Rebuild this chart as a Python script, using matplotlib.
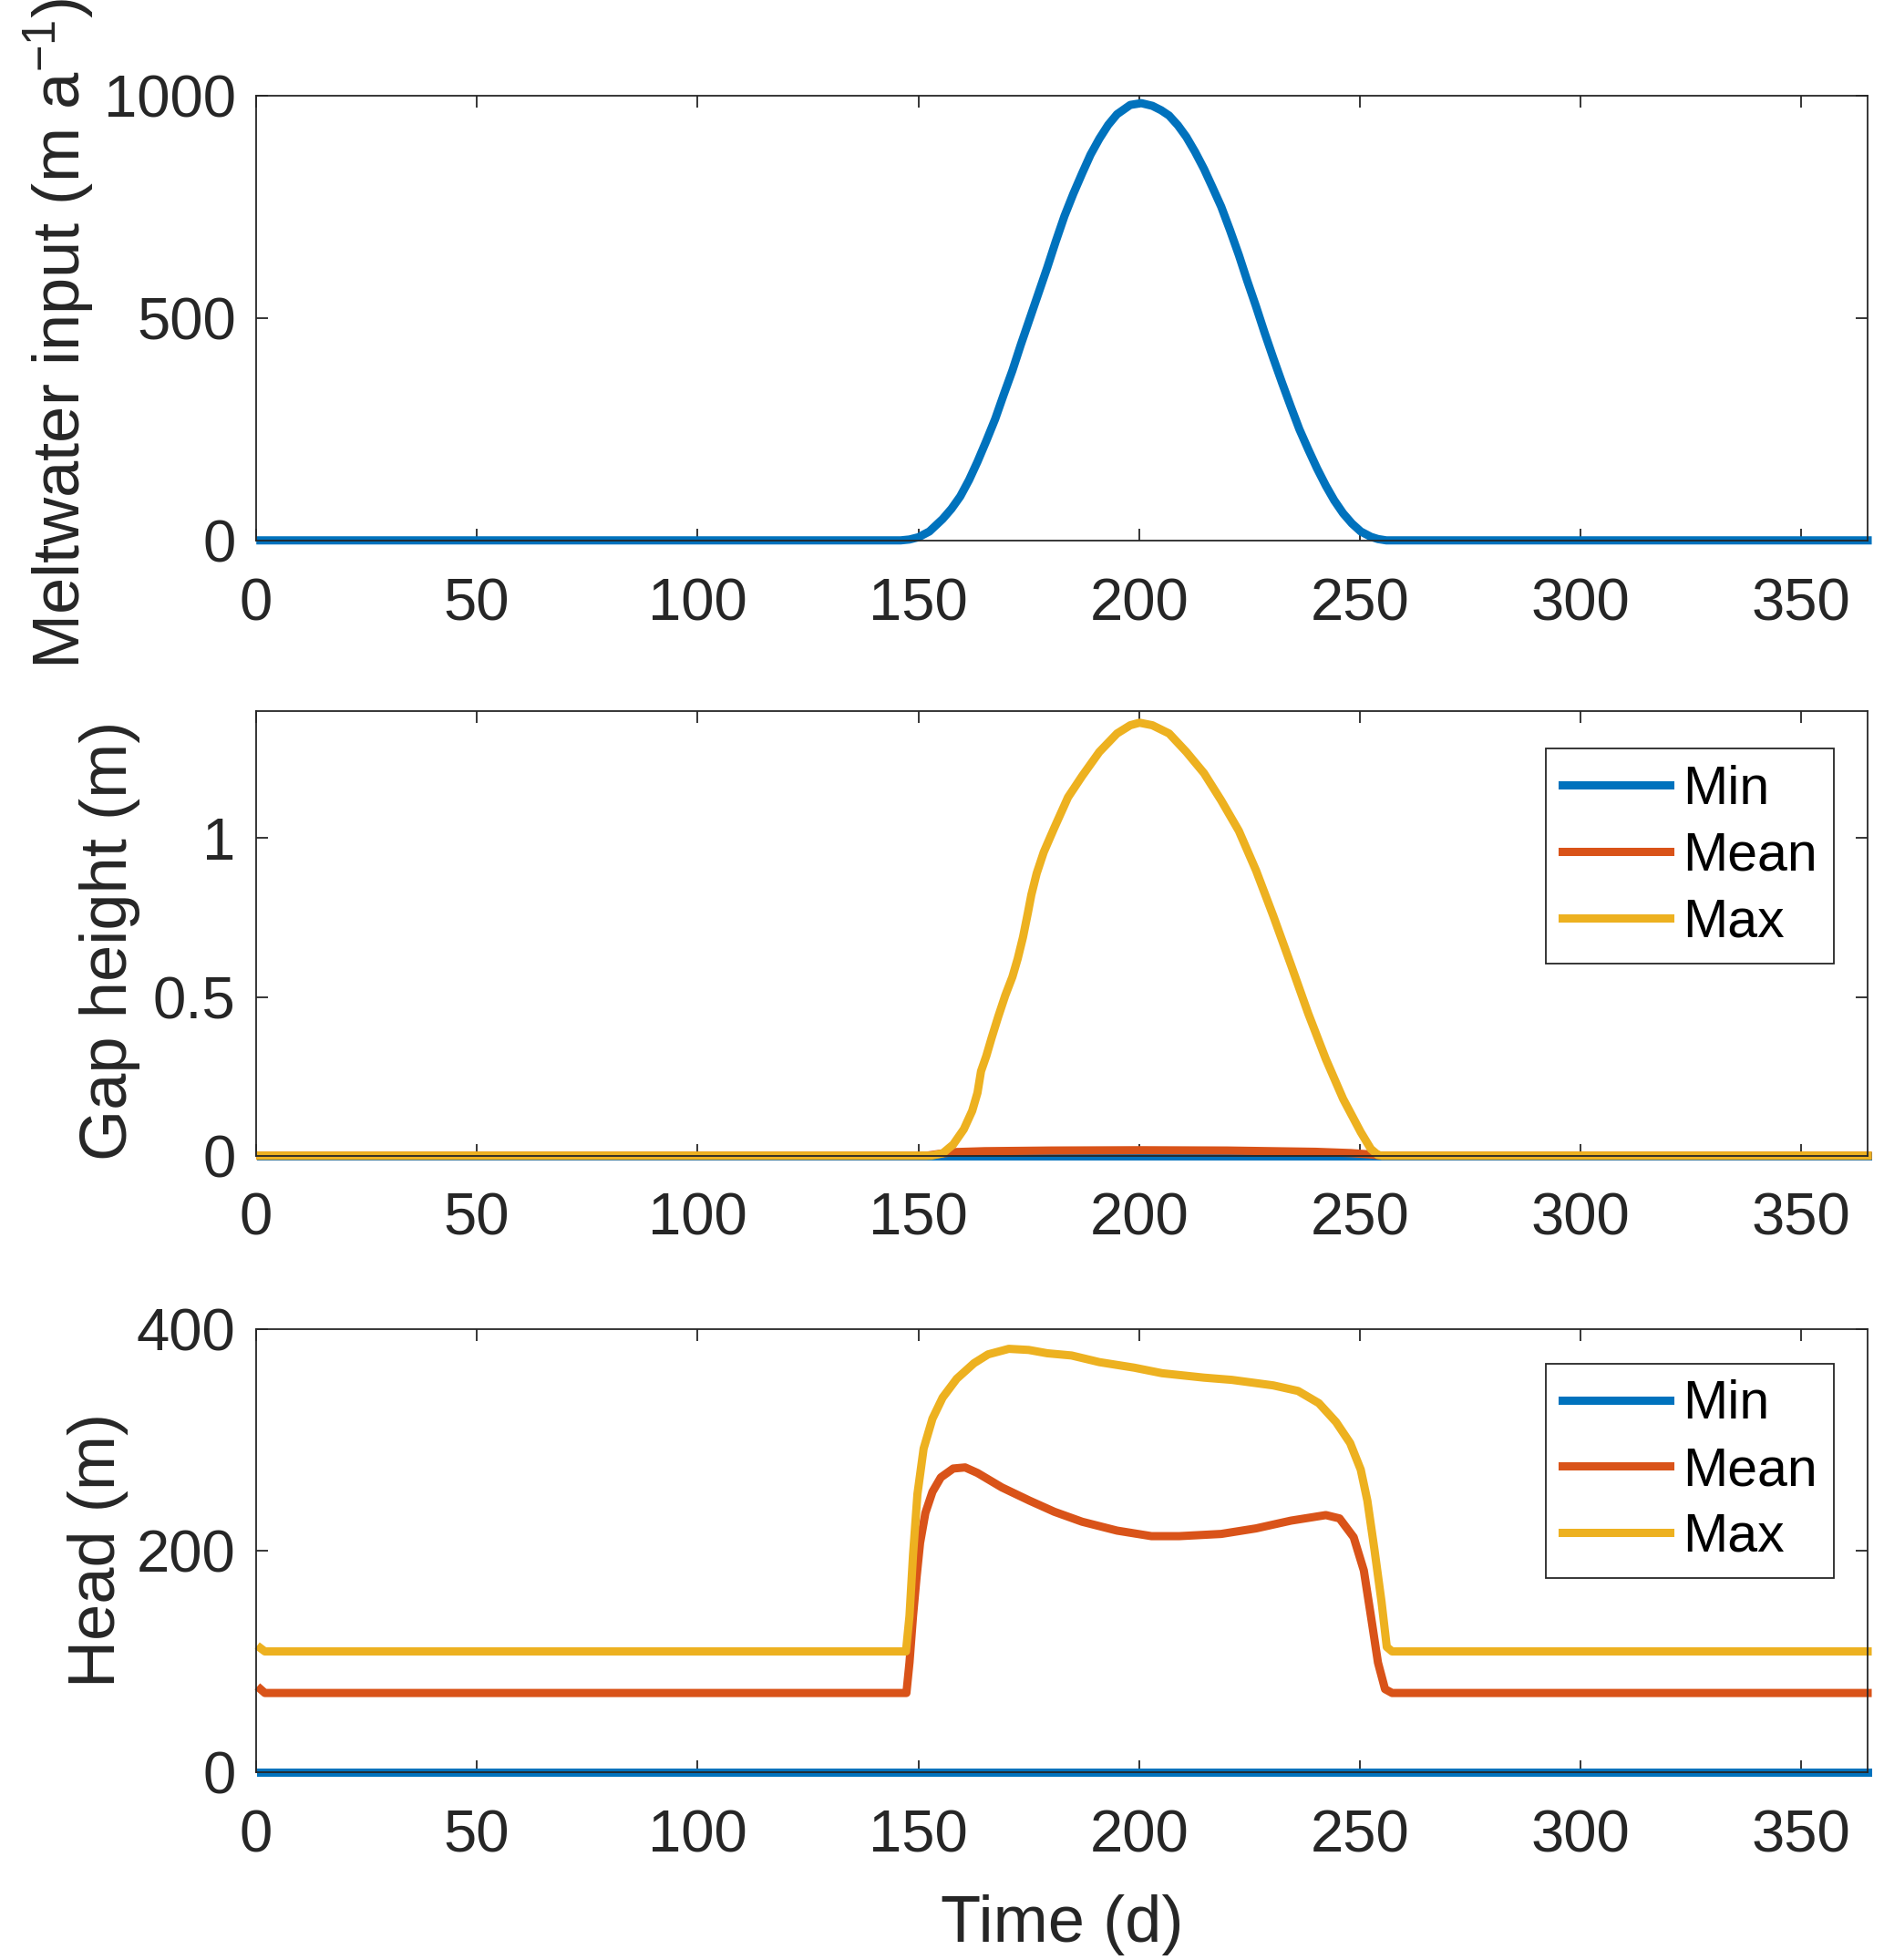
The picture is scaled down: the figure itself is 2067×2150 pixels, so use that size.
import matplotlib.pyplot as plt

# Datos
# Panel 1: meltwater input (m/a)
t_melt = [1, 146, 148, 150, 152.5, 155.5, 157.5, 159.5, 161.5, 163.4, 165.4, 167.4, 169.3,
          171.3, 173.2, 175.2, 177.2, 179.2, 181.1, 183.1, 185.1, 187.1, 189, 191, 193,
          195, 198, 200.5, 203, 205, 206.8, 208.8, 210.7, 212.7, 214.7, 216.6, 218.6,
          220.6, 222.6, 224.5, 226.5, 228.4, 230.4, 232.4, 234.4, 236.3, 238.3, 240.3,
          242.3, 244.2, 246.2, 248.2, 250.2, 252.5, 254.1, 256, 365]
melt = [0, 0, 2, 7, 20, 48, 71, 99, 136, 177, 224, 273, 327,
        382, 440, 498, 556, 614, 672, 730, 780, 826, 868, 904, 935,
        959, 980, 984, 978, 968, 956, 934, 908, 874, 836, 795, 751,
        698, 642, 584, 526, 468, 410, 354, 300, 250, 205, 162,
        123, 90, 61, 38, 20, 8, 3, 0, 0]

# Panel 2: gap height (m)
t_gmin = [1, 365]
gap_min = [0, 0]
t_gmean = [1, 152, 155, 158, 165, 180, 200, 220, 240, 248, 252, 255, 365]
gap_mean = [0, 0, 0.006, 0.011, 0.014, 0.016, 0.017, 0.016, 0.012, 0.008, 0.004, 0, 0]
t_gmax = [1, 153, 155.5, 157.9, 160.3, 162.2, 163.4, 164.2, 165.4, 166.6, 168.1, 169.7,
          171.3, 172.5, 173.7, 174.8, 175.6, 176.8, 178.4, 180.8, 183.9, 187.1,
          191, 195, 198, 200.1, 203, 206.8, 210.7, 214.7, 218.6, 222.6, 226.5,
          230.4, 234.4, 238.3, 242.3, 246.2, 250.2, 252.5, 254.1, 255, 365]
gap_max = [0, 0, 0.007, 0.035, 0.083, 0.141, 0.198, 0.266, 0.314, 0.371, 0.438, 0.505,
           0.563, 0.620, 0.688, 0.764, 0.822, 0.889, 0.956, 1.033, 1.129, 1.196,
           1.272, 1.330, 1.356, 1.364, 1.356, 1.330, 1.272, 1.205, 1.119, 1.023, 0.898,
           0.755, 0.601, 0.448, 0.304, 0.179, 0.074, 0.021, 0.002, 0, 0]

# Panel 3: head (m)
t_hmin = [1, 365]
head_min = [0, 0]
t_hmean = [1, 2, 147.3, 148.0, 148.8, 149.6, 150.4, 151.6, 153.2, 155.1, 157.9, 160.6,
           163.4, 168.9, 175.2, 180.8, 187.1, 195, 202.8, 209.1, 218.6, 226.5,
           234.4, 242.3, 245.4, 248.6, 250.9, 252.5, 254.1, 255.7, 257.3, 365]
head_mean = [75, 71.5, 71.5, 99, 141, 176, 207, 234, 253, 266, 274, 275,
             270, 257, 245, 235, 226, 218, 213, 213, 215, 220,
             227, 232, 229, 212, 182, 141, 99, 75, 71.5, 71.5]
t_hmax = [1, 2, 147.2, 148.0, 148.8, 149.8, 151.2, 153.2, 155.5, 158.7, 162.6, 165.8,
          170.5, 175, 179.2, 184.7, 191, 198.9, 205.2, 214.7, 221, 230.4, 236,
          240.7, 244.6, 247.8, 250.2, 251.7, 253.3, 254.9, 256.1, 257.3, 365]
head_max = [112, 109, 109, 141, 196, 251, 292, 319, 338, 355, 369, 377,
            382, 381, 378, 376, 370, 365, 360, 356, 354, 349, 344,
            333, 316, 297, 273, 245, 201, 154, 113, 109, 109]

labels = ['Min', 'Mean', 'Max']
colores = ['#0072BD', '#D95319', '#EDB120']

plt.rcParams['font.family'] = ['Liberation Sans', 'DejaVu Sans']
plt.rcParams['mathtext.fontset'] = 'custom'
plt.rcParams['mathtext.rm'] = 'Liberation Sans'
plt.rcParams['mathtext.it'] = 'Liberation Sans'

gris = '#262626'
fs_tick = 47
fs_lab = 52
fs_leg = 42.5
lw = 6.5

fig = plt.figure(figsize=(20.67, 21.5), dpi=100)
ax1 = fig.add_axes([0.1359, 0.7243, 0.8554, 0.2267])
ax2 = fig.add_axes([0.1359, 0.4104, 0.8554, 0.2267])
ax3 = fig.add_axes([0.1359, 0.0958, 0.8554, 0.2262])

ax1.plot(t_melt, melt, color=colores[0], lw=lw, clip_on=False, solid_joinstyle='round')

for t, y, lab, c in zip([t_gmin, t_gmean, t_gmax], [gap_min, gap_mean, gap_max], labels, colores):
    ax2.plot(t, y, color=c, lw=lw, label=lab, clip_on=False, solid_joinstyle='round')

for t, y, lab, c in zip([t_hmin, t_hmean, t_hmax], [head_min, head_mean, head_max], labels, colores):
    ax3.plot(t, y, color=c, lw=lw, label=lab, clip_on=False, solid_joinstyle='round')

ax1.set_ylim(0, 1000)
ax1.set_yticks([0, 500, 1000])
ax2.set_ylim(0, 1.4)
ax2.set_yticks([0, 0.5, 1])
ax2.set_yticklabels(['0', '0.5', '1'])
ax3.set_ylim(0, 400)
ax3.set_yticks([0, 200, 400])

for ax in [ax1, ax2, ax3]:
    ax.set_xlim(0, 365)
    ax.set_xticks(range(0, 351, 50))
    ax.tick_params(direction='in', top=True, right=True, length=9.5, width=1.3,
                   labelsize=fs_tick, colors=gris)
    ax.tick_params(axis='x', pad=29)
    ax.tick_params(axis='y', pad=16)
    for s in ax.spines.values():
        s.set_color(gris)
        s.set_linewidth(1.3)

ax1.set_ylabel('Meltwater input (m a$^{-1}$)', fontsize=fs_lab, color=gris)
ax2.set_ylabel('Gap height (m)', fontsize=fs_lab, color=gris)
ax3.set_ylabel('Head (m)', fontsize=fs_lab, color=gris)
ax3.set_xlabel('Time (d)', fontsize=fs_lab, color=gris, labelpad=24)

ax1.yaxis.set_label_coords(-0.099, 0.465)
ax2.yaxis.set_label_coords(-0.072, 0.483)
ax3.yaxis.set_label_coords(-0.079, 0.5)

for ax, yb in [(ax2, 0.916), (ax3, 0.922)]:
    leg = ax.legend(loc='upper right', bbox_to_anchor=(0.979, yb), borderaxespad=0,
                    fontsize=fs_leg, fancybox=False, framealpha=1, edgecolor=gris,
                    handlelength=2.0, handletextpad=0.25, labelspacing=0.3,
                    borderpad=0.3)
    leg.get_frame().set_linewidth(1.3)
    for txt in leg.get_texts():
        txt.set_color('black')

plt.savefig('out.png', dpi=100)
